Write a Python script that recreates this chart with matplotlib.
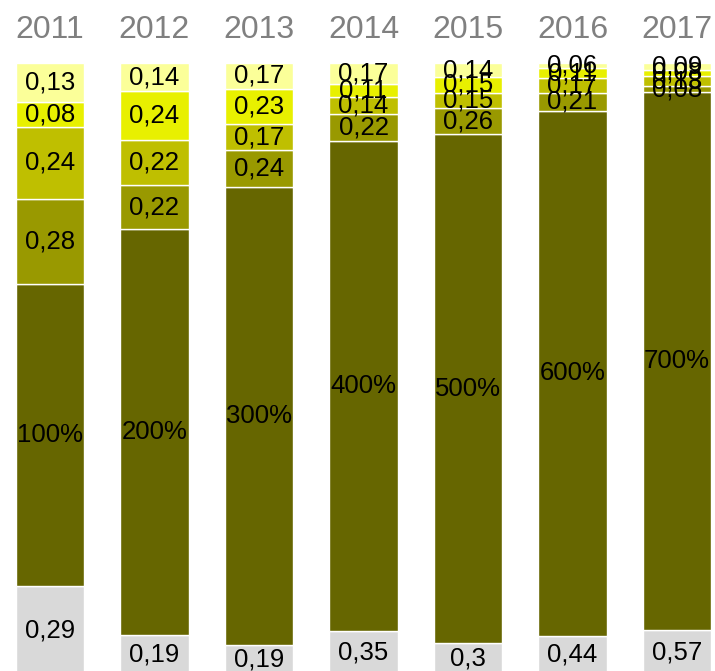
import matplotlib
matplotlib.use("Agg")
import matplotlib.pyplot as plt
import numpy as np
from matplotlib.transforms import blended_transform_factory

plt.rcParams['font.family'] = ['Liberation Sans', 'DejaVu Sans']

years = ["2011", "2012", "2013", "2014", "2015", "2016", "2017"]
s_gray = [0.29, 0.19, 0.19, 0.35, 0.3, 0.44, 0.57]
s_main = [1, 2, 3, 4, 5, 6, 7]
s_c = [0.28, 0.22, 0.24, 0.22, 0.26, 0.21, 0.08]
s_d = [0.24, 0.22, 0.17, 0.14, 0.15, 0.17, 0.13]
s_e = [0.08, 0.24, 0.23, 0.11, 0.15, 0.11, 0.08]
s_f = [0.13, 0.14, 0.17, 0.17, 0.14, 0.06, 0.09]

series = [s_gray, s_main, s_c, s_d, s_e, s_f]
colors = ["#d9d9d9", "#666600", "#999900", "#bfbf00", "#e8f000", "#fbff99"]

def fmt(v):
    s = ("%.2f" % v).rstrip("0").rstrip(".")
    return s.replace(".", ",")

fig = plt.figure(figsize=(7.15, 6.71), dpi=100)
ax = fig.add_axes([0, -3/671, 1, 611/671])

data = np.array(series, dtype=float)
totals = data.sum(axis=0)
x = np.arange(len(years))
bottom = np.zeros(len(years))
for i, vals in enumerate(series):
    frac = np.array(vals) / totals
    ax.bar(x, frac, bottom=bottom, width=0.66, color=colors[i],
           edgecolor="white", linewidth=1)
    for j, v in enumerate(vals):
        lab = f"{int(v*100)}%" if i == 1 else fmt(v)
        ax.text(x[j], bottom[j] + frac[j] / 2, lab, ha="center", va="center",
                fontsize=18.5, color="black")
    bottom += frac

ax.set_xlim(-50/104.5, 6 + 38/104.5)
ax.set_ylim(0, 1)
ax.axis("off")

trans = blended_transform_factory(ax.transData, ax.transAxes)
for j, y in enumerate(years):
    ax.text(x[j], (674 - 38) / 611, y, ha="center", va="baseline",
            fontsize=23, color="#808080", transform=trans)

fig.savefig("out.png", dpi=100)
